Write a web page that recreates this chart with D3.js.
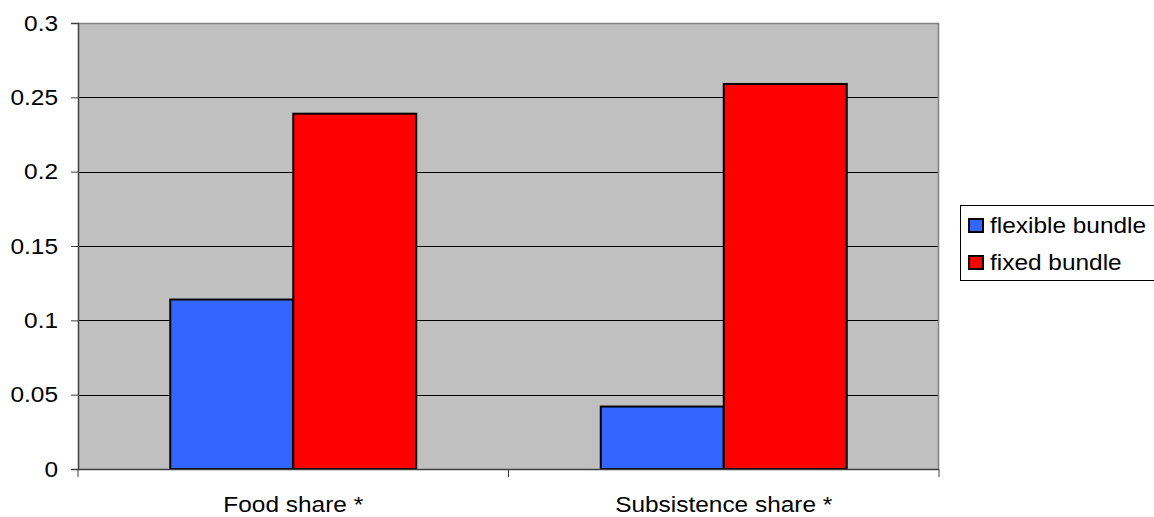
<!DOCTYPE html>
<html>
<head>
<meta charset="utf-8">
<script src="https://cdn.jsdelivr.net/npm/d3@7"></script>
<style>
  html, body { margin: 0; padding: 0; background: #fff; }
  svg { display: block; }
  text { font-family: "Liberation Sans", Arial, sans-serif; fill: #000; }
</style>
</head>
<body>
<svg id="chart" width="1154" height="517"></svg>
<script>
// Chart data
const categories = ["Food share *", "Subsistence share *"];
const seriesNames = ["flexible bundle", "fixed bundle"];
const flexibleValues = [0.114, 0.042];
const fixedValues = [0.239, 0.259];
const yTicks = [0, 0.05, 0.1, 0.15, 0.2, 0.25, 0.3];
const yTickLabels = ["0", "0.05", "0.1", "0.15", "0.2", "0.25", "0.3"];
const seriesColors = ["#3366ff", "#ff0000"];

const rows = categories.map((c, i) => ({
  category: c,
  values: [flexibleValues[i], fixedValues[i]]
}));

const svg = d3.select("#chart");
const plot = { left: 78, top: 23, right: 939, bottom: 469 };
const fontSize = 22;
const stretch = 1.11; // wide glyph rendering

// Place a text at (x, y) with a horizontal stretch about its anchor
function placeText(sel, xf, yf) {
  sel.attr("x", 0).attr("y", 0)
    .attr("transform", (d, i) => `translate(${xf(d, i)},${yf(d, i)}) scale(${stretch},1)`);
}

const x0 = d3.scaleBand().domain(categories).range([plot.left, plot.right]).padding(0);
const x1 = d3.scaleBand().domain(d3.range(seriesNames.length))
  .range([0, x0.bandwidth()]).paddingInner(0).paddingOuter(0.75);
const y = d3.scaleLinear().domain([0, 0.3]).range([plot.bottom, plot.top]);

// Plot background
svg.append("rect")
  .attr("x", plot.left).attr("y", plot.top)
  .attr("width", plot.right - plot.left).attr("height", plot.bottom - plot.top)
  .attr("fill", "#c0c0c0");

// Gridlines
svg.append("g")
  .selectAll("line")
  .data(yTicks.filter(t => t > 0 && t < 0.3))
  .join("line")
  .attr("x1", plot.left).attr("x2", plot.right)
  .attr("y1", d => Math.round(y(d)) + 0.5).attr("y2", d => Math.round(y(d)) + 0.5)
  .attr("stroke", "#000").attr("stroke-width", 1);

// Plot border (top and right)
svg.append("path")
  .attr("d", `M${plot.left},${plot.top + 0.5}H${plot.right - 0.5}V${plot.bottom}`)
  .attr("fill", "none").attr("stroke", "#808080").attr("stroke-width", 1.5);

// Bars
const groups = svg.append("g").selectAll("g")
  .data(rows)
  .join("g")
  .attr("transform", d => `translate(${x0(d.category)},0)`);

groups.selectAll("rect")
  .data(d => d.values.map((v, i) => ({ v, i })))
  .join("rect")
  .attr("x", d => x1(d.i))
  .attr("y", d => y(d.v))
  .attr("width", x1.bandwidth())
  .attr("height", d => y(0) - y(d.v))
  .attr("fill", d => seriesColors[d.i])
  .attr("stroke", "#000")
  .attr("stroke-width", 2);

// Y axis
const yAxis = d3.axisLeft(y)
  .tickValues(yTicks)
  .tickFormat((d, i) => yTickLabels[i])
  .tickSize(7)
  .tickPadding(12);
const yg = svg.append("g").attr("transform", `translate(${plot.left},0)`).call(yAxis);
yg.select(".domain").attr("stroke", "#404040").attr("stroke-width", 1.5);
yg.selectAll(".tick line").attr("stroke", "#404040");
yg.selectAll(".tick text")
  .style("font-family", '"Liberation Sans", Arial, sans-serif')
  .style("font-size", fontSize + "px")
  .attr("fill", "#000")
  .attr("x", 0)
  .attr("transform", `translate(-20,0) scale(${stretch},1)`);

// X axis: tick marks at category boundaries
svg.append("line")
  .attr("x1", plot.left).attr("x2", plot.right)
  .attr("y1", plot.bottom + 0.5).attr("y2", plot.bottom + 0.5)
  .attr("stroke", "#404040").attr("stroke-width", 1.5);

const boundaries = categories.map(c => x0(c)).concat([plot.right]);
svg.append("g").selectAll("line")
  .data(boundaries)
  .join("line")
  .attr("x1", d => d).attr("x2", d => d)
  .attr("y1", plot.bottom).attr("y2", plot.bottom + 8)
  .attr("stroke", "#404040").attr("stroke-width", 1);

svg.append("g").selectAll("text")
  .data(categories)
  .join("text")
  .attr("text-anchor", "middle")
  .style("font-size", fontSize + "px")
  .text(d => d)
  .call(placeText, d => x0(d) + x0.bandwidth() / 2, () => 512);

// Legend
const legend = svg.append("g");
legend.append("rect")
  .attr("x", 960.5).attr("y", 205.5)
  .attr("width", 210).attr("height", 75)
  .attr("fill", "#fff").attr("stroke", "#000").attr("stroke-width", 1);

const items = legend.selectAll("g.item")
  .data(seriesNames)
  .join("g")
  .attr("class", "item")
  .attr("transform", (d, i) => `translate(0,${i * 37})`);

items.append("rect")
  .attr("x", 969).attr("y", 219)
  .attr("width", 14).attr("height", 13)
  .attr("fill", (d, i) => seriesColors[i])
  .attr("stroke", "#000").attr("stroke-width", 2);

items.append("text")
  .style("font-size", fontSize + "px")
  .text(d => d)
  .call(placeText, () => 990, () => 233);
</script>
</body>
</html>
